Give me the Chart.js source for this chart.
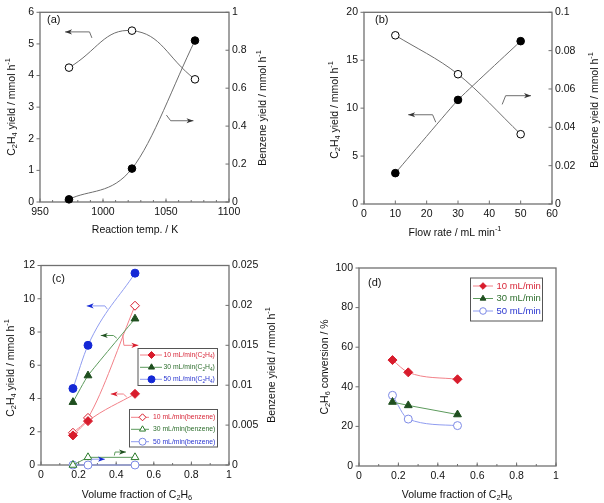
<!DOCTYPE html>
<html>
<head>
<meta charset="utf-8">
<script src="https://cdn.jsdelivr.net/npm/chart.js@4"></script>
<style>
  body { margin: 0; background: #fff; }
  #wrap { position: relative; width: 604px; height: 503px; }
  canvas { position: absolute; }
</style>
</head>
<body>
<div id="wrap">
  <canvas id="chartA" width="300" height="240" style="left:0;top:0"></canvas>
  <canvas id="chartB" width="304" height="240" style="left:300px;top:0"></canvas>
  <canvas id="chartC" width="300" height="263" style="left:0;top:240px"></canvas>
  <canvas id="chartD" width="304" height="263" style="left:300px;top:240px"></canvas>
</div>
<script>
// (a) reaction temperature
const tempA = [973, 1023, 1073];
const c2h4A = [4.25, 5.42, 3.88];
const benzA = [0.014, 0.176, 0.851];

// (b) flow rate
const flowB = [10, 30, 50];
const c2h4B = [3.22, 10.86, 16.99];
const benzB = [0.088, 0.0677, 0.0364];

// (c) volume fraction of C2H6
const fracC = [0.17, 0.25, 0.5];
const c2h4C10 = [1.78, 2.64, 4.28];
const c2h4C30 = [3.78, 5.38, 8.8];
const c2h4C50 = [4.6, 7.2, 11.54];
const benzC10 = [0.00404, 0.0059, 0.01996];
const benzC30 = [0, 0.00096, 0.00096];
const benzC50 = [0, 0, 0];

// (d) C2H6 conversion
const fracD = [0.17, 0.25, 0.5];
const convD10 = [53.5, 47.3, 43.8];
const convD30 = [32.3, 30.6, 26.0];
const convD50 = [35.7, 23.7, 20.4];

const flowLabels = ['10 mL/min', '30 mL/min', '50 mL/min'];

const FONT = '"Liberation Sans", Arial, sans-serif';
const RED = '#d81c2c', RED_LINE = '#f28088', RED_TXT = '#d8283a';
const GREEN = '#1f4f1f', GREEN_LINE = '#5c9a5c', GREEN_TXT = '#2e6e2e';
const BLUE = '#1428d6', BLUE_LINE = '#8f9cf0', BLUE_TXT = '#2a36d0', BLUE_OPEN = '#7d8ae6';
const GRAY = '#6e6e6e';

function fmt(v) {
  return String(parseFloat(v.toFixed(6)));
}

// text with _{sub} and ^{sup}
function drawRich(ctx, text, x, y, size, angle, color, align) {
  const parts = [];
  const re = /([_^])\{([^}]*)\}/g;
  let last = 0, m;
  while ((m = re.exec(text))) {
    if (m.index > last) parts.push({t: text.slice(last, m.index), k: ''});
    parts.push({t: m[2], k: m[1]});
    last = re.lastIndex;
  }
  if (last < text.length) parts.push({t: text.slice(last), k: ''});
  const small = size * 0.7;
  let total = 0;
  parts.forEach(p => {
    ctx.font = (p.k ? small : size) + 'px ' + FONT;
    p.w = ctx.measureText(p.t).width;
    total += p.w;
  });
  ctx.save();
  ctx.translate(x, y);
  ctx.rotate(angle);
  ctx.fillStyle = color;
  ctx.textBaseline = 'middle';
  ctx.textAlign = 'left';
  let cx = align === 'left' ? 0 : -total / 2;
  parts.forEach(p => {
    ctx.font = (p.k ? small : size) + 'px ' + FONT;
    const dy = p.k === '_' ? size * 0.3 : (p.k === '^' ? -size * 0.38 : 0);
    ctx.fillText(p.t, cx, dy);
    cx += p.w;
  });
  ctx.restore();
}

function drawMarker(ctx, style, r, x, y) {
  ctx.beginPath();
  if (style === 'triangle') {
    ctx.moveTo(x, y - r);
    ctx.lineTo(x + r * 0.87, y + r * 0.5);
    ctx.lineTo(x - r * 0.87, y + r * 0.5);
    ctx.closePath();
  } else if (style === 'rectRot') {
    ctx.moveTo(x, y - r); ctx.lineTo(x + r, y); ctx.lineTo(x, y + r); ctx.lineTo(x - r, y);
    ctx.closePath();
  } else {
    ctx.arc(x, y, r, 0, Math.PI * 2);
  }
  ctx.fill();
  ctx.stroke();
}

const panelPlugin = {
  id: 'panel',
  beforeDatasetsDraw(chart, args, o) {
    const ctx = chart.ctx, a = chart.chartArea;
    ctx.save();
    ctx.strokeStyle = '#707070';
    ctx.lineWidth = 1.3;
    ctx.strokeRect(a.left, a.top, a.right - a.left, a.bottom - a.top);
    ctx.lineWidth = 1;
    Object.values(chart.scales).forEach(s => {
      const marks = s.ticks.map(t => [t.value, 3.5]);
      const step = (o.minor || {})[s.id];
      if (step) {
        for (let v = s.min + step; v < s.max; v += step) marks.push([v, 2]);
      }
      marks.forEach(([v, len]) => {
        const p = s.getPixelForValue(v);
        ctx.beginPath();
        if (s.position === 'bottom') { ctx.moveTo(p, a.bottom); ctx.lineTo(p, a.bottom - len); }
        else if (s.position === 'left') { ctx.moveTo(a.left, p); ctx.lineTo(a.left - len, p); }
        else { ctx.moveTo(a.right, p); ctx.lineTo(a.right - len, p); }
        ctx.stroke();
      });
    });
    ctx.restore();
  },
  afterDatasetsDraw(chart, args, o) {
    const ctx = chart.ctx;
    (o.arrows || []).forEach(ar => {
      const xs = chart.scales.x, ys = chart.scales[ar.axis || 'y'];
      const p = ar.pts.map(([x, y]) => [xs.getPixelForValue(x), ys.getPixelForValue(y)]);
      ctx.save();
      ctx.strokeStyle = ar.color;
      ctx.lineWidth = 1;
      ctx.beginPath();
      p.forEach(([x, y], i) => i ? ctx.lineTo(x, y) : ctx.moveTo(x, y));
      ctx.stroke();
      const [x1, y1] = p[p.length - 1], [x0, y0] = p[p.length - 2];
      ctx.translate(x1, y1);
      ctx.rotate(Math.atan2(y1 - y0, x1 - x0));
      ctx.fillStyle = ar.head || ar.color;
      ctx.beginPath();
      ctx.moveTo(0, 0); ctx.lineTo(-7, -2.6); ctx.lineTo(-5, 0); ctx.lineTo(-7, 2.6);
      ctx.closePath();
      ctx.fill();
      ctx.restore();
    });
  },
  afterDraw(chart, args, o) {
    const ctx = chart.ctx;
    (o.titles || []).forEach(t => drawRich(ctx, t.text, t.x, t.y, 10.5, t.rot ? -Math.PI / 2 : 0, '#111'));
    if (o.label) drawRich(ctx, o.label.text, o.label.x, o.label.y, 11, 0, '#111', 'left');
    (o.legends || []).forEach(L => {
      const [bx, by, bw, bh] = L.box;
      ctx.save();
      ctx.fillStyle = '#fff';
      ctx.fillRect(bx, by, bw, bh);
      ctx.strokeStyle = '#555';
      ctx.lineWidth = 1;
      ctx.strokeRect(bx + 0.5, by + 0.5, bw, bh);
      L.items.forEach((di, i) => {
        const ds = chart.data.datasets[di], y = L.rows[i];
        ctx.strokeStyle = ds.borderColor;
        ctx.beginPath();
        ctx.moveTo(L.lx[0], y); ctx.lineTo(L.lx[1], y);
        ctx.stroke();
        ctx.fillStyle = ds.pointBackgroundColor;
        ctx.strokeStyle = ds.pointBorderColor;
        drawMarker(ctx, ds.pointStyle, L.r, L.mx, y);
        drawRich(ctx, ds.label, L.tx, y, L.size, 0, ds.textColor, 'left');
      });
      ctx.restore();
    });
  }
};

function axis(pos, min, max, step, size, extra) {
  return Object.assign({
    type: 'linear', position: pos, min: min, max: max,
    grid: {display: false, drawTicks: false},
    border: {display: false},
    ticks: {
      stepSize: step, autoSkip: false, maxRotation: 0, color: '#111',
      font: {family: FONT, size: 10.5},
      padding: pos === 'right' ? 3 : (pos === 'bottom' ? 4 : 6),
      callback: v => fmt(v)
    },
    afterFit: s => { if (pos === 'bottom') s.height = size; else s.width = size; }
  }, extra || {});
}

function series(label, xs, ys, axisId, style) {
  return Object.assign({
    label: label,
    data: xs.map((x, i) => ({x: x, y: ys[i]})),
    yAxisID: axisId, clip: false, borderWidth: 1, pointBorderWidth: 1,
    pointRadius: 3.8, pointHoverRadius: 3.8, tension: 0.4
  }, style);
}

function makeChart(id, datasets, scales, padding, panel) {
  return new Chart(document.getElementById(id), {
    type: 'line',
    data: {datasets: datasets},
    options: {
      responsive: false, animation: false,
      layout: {padding: padding},
      scales: scales,
      plugins: {legend: {display: false}, tooltip: {enabled: false}, panel: panel}
    },
    plugins: [panelPlugin]
  });
}

const openBlack = {borderColor: GRAY, pointBackgroundColor: '#fff', pointBorderColor: '#000', pointStyle: 'circle'};
const fillBlack = {borderColor: GRAY, pointBackgroundColor: '#000', pointBorderColor: '#000', pointStyle: 'circle'};
const mono = {cubicInterpolationMode: 'monotone'};

// (a)
makeChart('chartA', [
  series('C2H4', tempA, c2h4A, 'y', Object.assign({tension: 0.45}, openBlack)),
  series('Benzene', tempA, benzA, 'y1', Object.assign({}, mono, fillBlack))
], {
  x: axis('bottom', 950, 1100, 50, 38),
  y: axis('left', 0, 6, 1, 40),
  y1: axis('right', 0, 1, 0.2, 71)
}, {top: 7, left: 0, right: 0, bottom: 0}, {
  minor: {x: 10},
  label: {text: '(a)', x: 47, y: 19.5},
  titles: [
    {text: 'C_{2}H_{4} yield / mmol h^{-1}', x: 12, y: 107, rot: true},
    {text: 'Benzene yield / mmol h^{-1}', x: 263, y: 108, rot: true},
    {text: 'Reaction temp. / K', x: 135, y: 230}
  ],
  arrows: [
    {pts: [[991.2, 5.19], [989.3, 5.38], [969.9, 5.38]], color: GRAY, head: '#333'},
    {pts: [[1050.3, 2.75], [1053.7, 2.57], [1071.8, 2.57]], color: GRAY, head: '#333'}
  ]
});

// (b)
makeChart('chartB', [
  series('C2H4', flowB, c2h4B, 'y', Object.assign({tension: 0.1}, fillBlack)),
  series('Benzene', flowB, benzB, 'y1', Object.assign({}, mono, openBlack))
], {
  x: axis('bottom', 0, 60, 10, 36),
  y: axis('left', 0, 20, 5, 64),
  y1: axis('right', 0, 0.1, 0.02, 52)
}, {top: 7, left: 0, right: 0, bottom: 0}, {
  label: {text: '(b)', x: 75, y: 20},
  titles: [
    {text: 'C_{2}H_{4} yield / mmol h^{-1}', x: 35, y: 110, rot: true},
    {text: 'Benzene yield / mmol h^{-1}', x: 295, y: 110, rot: true},
    {text: 'Flow rate / mL min^{-1}', x: 155, y: 233}
  ],
  arrows: [
    {pts: [[22.9, 8.53], [21.9, 9.31], [14.1, 9.31]], color: GRAY, head: '#333'},
    {pts: [[44.1, 10.39], [45.2, 11.3], [53.3, 11.3]], color: GRAY, head: '#333'}
  ]
});

// (c)
makeChart('chartC', [
  series(flowLabels[0] + '(C_{2}H_{4})', fracC, c2h4C10, 'y', Object.assign({borderColor: RED_LINE, pointBackgroundColor: RED, pointBorderColor: RED, pointStyle: 'rectRot', pointRadius: 4.5, textColor: RED_TXT}, mono)),
  series(flowLabels[1] + '(C_{2}H_{4})', fracC, c2h4C30, 'y', {borderColor: GREEN_LINE, pointBackgroundColor: GREEN, pointBorderColor: GREEN, pointStyle: 'triangle', pointRadius: 4.5, tension: 0.15, textColor: GREEN_TXT}),
  series(flowLabels[2] + '(C_{2}H_{4})', fracC, c2h4C50, 'y', Object.assign({borderColor: BLUE_LINE, pointBackgroundColor: BLUE, pointBorderColor: BLUE, pointStyle: 'circle', pointRadius: 4, textColor: BLUE_TXT}, mono)),
  series(flowLabels[0] + '(benzene)', fracC, benzC10, 'y1', Object.assign({borderColor: RED_LINE, pointBackgroundColor: '#fff', pointBorderColor: RED, pointStyle: 'rectRot', pointRadius: 4.5, textColor: RED_TXT}, mono)),
  series(flowLabels[1] + '(benzene)', fracC, benzC30, 'y1', {borderColor: GREEN_LINE, pointBackgroundColor: '#fff', pointBorderColor: '#2a7a2a', pointStyle: 'triangle', pointRadius: 4.5, tension: 0, textColor: GREEN_TXT}),
  series(flowLabels[2] + '(benzene)', fracC, benzC50, 'y1', {borderColor: BLUE_LINE, pointBackgroundColor: '#fff', pointBorderColor: BLUE_OPEN, pointStyle: 'circle', pointRadius: 4, tension: 0, textColor: BLUE_TXT})
], {
  x: axis('bottom', 0, 1, 0.2, 38),
  y: axis('left', 0, 12, 2, 41),
  y1: axis('right', 0, 0.025, 0.005, 71)
}, {top: 25.5, left: 0, right: 0, bottom: 0}, {
  minor: {x: 0.1},
  label: {text: '(c)', x: 52, y: 39},
  titles: [
    {text: 'C_{2}H_{4} yield / mmol h^{-1}', x: 11, y: 128, rot: true},
    {text: 'Benzene yield / mmol h^{-1}', x: 272, y: 125, rot: true},
    {text: 'Volume fraction of C_{2}H_{6}', x: 137, y: 255}
  ],
  arrows: [
    {pts: [[0.353, 9.37], [0.34, 9.57], [0.243, 9.57]], color: BLUE_LINE, head: BLUE},
    {pts: [[0.403, 7.63], [0.385, 7.79], [0.318, 7.79]], color: GREEN_LINE, head: GREEN},
    {pts: [[0.435, 7.83], [0.441, 7.2], [0.518, 7.2]], color: RED_LINE, head: RED},
    {pts: [[0.456, 4.09], [0.438, 4.27], [0.371, 4.27]], color: RED_LINE, head: RED},
    {pts: [[0.39, 0.57], [0.394, 0.78], [0.452, 0.78]], color: GREEN_LINE, head: GREEN},
    {pts: [[0.264, 0.17], [0.27, 0.35], [0.34, 0.35]], color: BLUE_LINE, head: BLUE}
  ],
  legends: [
    {box: [137.5, 108, 79.5, 37], rows: [115, 127.3, 139.3], lx: [140, 162], mx: 151.5, tx: 163.5, r: 3.5, size: 6.8, items: [0, 1, 2]},
    {box: [129, 169, 88, 37.5], rows: [177.3, 189.3, 201.7], lx: [131, 149], mx: 142.5, tx: 153, r: 3.5, size: 6.8, items: [3, 4, 5]}
  ]
});

// (d)
makeChart('chartD', [
  series(flowLabels[0], fracD, convD10, 'y', Object.assign({borderColor: RED_LINE, pointBackgroundColor: RED, pointBorderColor: RED, pointStyle: 'rectRot', pointRadius: 4.5, textColor: RED_TXT}, mono)),
  series(flowLabels[1], fracD, convD30, 'y', {borderColor: GREEN_LINE, pointBackgroundColor: GREEN, pointBorderColor: GREEN, pointStyle: 'triangle', pointRadius: 4.5, tension: 0, textColor: GREEN_TXT}),
  series(flowLabels[2], fracD, convD50, 'y', Object.assign({borderColor: BLUE_LINE, pointBackgroundColor: '#fff', pointBorderColor: BLUE_OPEN, pointStyle: 'circle', pointRadius: 4, textColor: BLUE_TXT}, mono))
], {
  x: axis('bottom', 0, 1, 0.2, 37),
  y: axis('left', 0, 100, 20, 59)
}, {top: 28, left: 0, right: 48, bottom: 0}, {
  minor: {x: 0.1},
  label: {text: '(d)', x: 68, y: 43},
  titles: [
    {text: 'C_{2}H_{6} conversion / %', x: 25, y: 127, rot: true},
    {text: 'Volume fraction of C_{2}H_{6}', x: 157, y: 255}
  ],
  legends: [
    {box: [170, 37.5, 72, 43], rows: [46, 58.5, 71], lx: [173, 193], mx: 183, tx: 196.5, r: 3.3, size: 9.5, items: [0, 1, 2]}
  ]
});
</script>
</body>
</html>
